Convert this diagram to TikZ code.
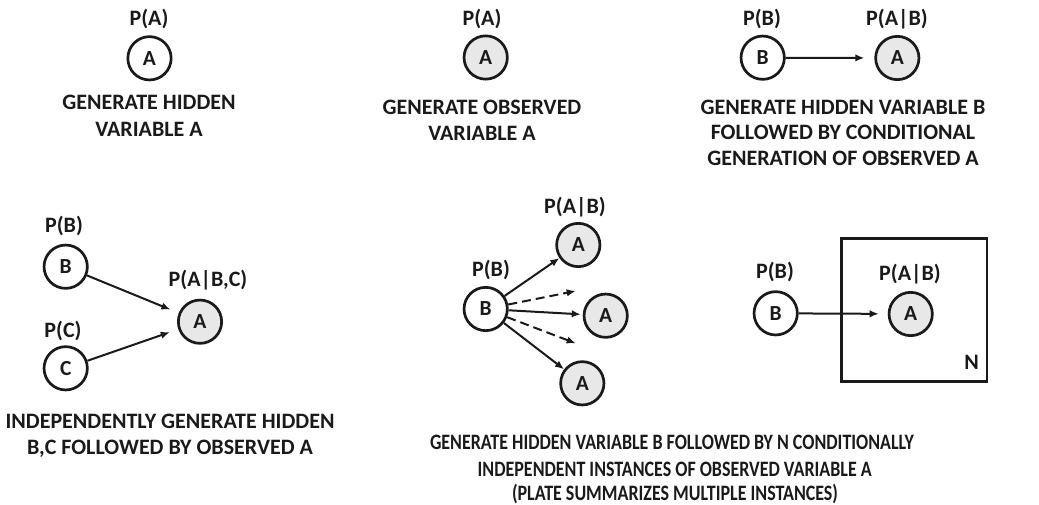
\documentclass[tikz,border=0pt]{standalone}
\usepackage{fontspec}
\setmainfont{Carlito}
\usetikzlibrary{arrows.meta}
\definecolor{ink}{HTML}{1A1A1A}
\definecolor{obsfill}{HTML}{E8E8E8}
\newcommand{\narrowtext}[1]{\scalebox{0.817}[1]{#1}}
\begin{document}
\begin{tikzpicture}[x=1pt,y=-1pt,
  lbl/.style={font=\fontsize{22}{27}\selectfont\bfseries, text=ink, inner sep=0pt, anchor=base},
  var/.style={circle, draw=ink, line width=2.7pt, minimum size=43.3pt, inner sep=0pt, font=\fontsize{21.5}{26}\selectfont\bfseries, text=ink},
  obs/.style={var, fill=obsfill},
  arr/.style={-{Latex[length=9pt,width=7.5pt]}, line width=2pt, draw=ink},
  dasharr/.style={arr, dash pattern=on 9pt off 5pt}]
\useasboundingbox (0,0) rectangle (1039,504);

% Panel 1
\node[lbl] (p1l) at (149,25) {P(A)};
\node[var] (p1a) at (149.5,58.3) {A};
\node[lbl] (p1t1) at (149,109) {GENERATE HIDDEN};
\node[lbl] (p1t2) at (149,136) {VARIABLE A};

% Panel 2
\node[lbl] (p2l) at (482,25) {P(A)};
\node[obs] (p2a) at (485.7,57.5) {A};
\node[lbl] (p2t1) at (482,114) {GENERATE OBSERVED};
\node[lbl] (p2t2) at (482,140) {VARIABLE A};

% Panel 3
\node[lbl] (p3lb) at (762,25) {P(B)};
\node[var] (p3b) at (762.7,57.7) {B};
\node[lbl] (p3la) at (897,25) {P(A|B)};
\node[obs] (p3a) at (897.3,58) {A};
\draw[arr, shorten >=10pt] (p3b) -- (p3a);
\node[lbl] (p3t1) at (843,114) {GENERATE HIDDEN VARIABLE B};
\node[lbl] (p3t2) at (843,139) {FOLLOWED BY CONDITIONAL};
\node[lbl] (p3t3) at (843,165) {GENERATION OF OBSERVED A};

% Panel 4
\node[lbl] (p4lb) at (64,232.3) {P(B)};
\node[var] (p4b) at (65.7,266.7) {B};
\node[lbl] (p4lc) at (63,337) {P(C)};
\node[var] (p4c) at (65.7,368.3) {C};
\node[lbl] (p4la) at (208,286.7) {P(A|B,C)};
\node[obs] (p4a) at (200,321.7) {A};
\draw[arr, shorten >=9pt] (p4b) -- (p4a);
\draw[arr, shorten >=9pt] (p4c) -- (p4a);
\node[lbl] (p4t1) at (170,428) {INDEPENDENTLY GENERATE HIDDEN};
\node[lbl] (p4t2) at (170,454) {B,C FOLLOWED BY OBSERVED A};

% Panel 5
\node[lbl] (p5la) at (575,213.3) {P(A|B)};
\node[obs] (p5a1) at (578.3,245) {A};
\node[lbl] (p5lb) at (491,276.7) {P(B)};
\node[var] (p5b) at (485.7,309) {B};
\node[obs] (p5a2) at (605.7,315.7) {A};
\node[obs] (p5a3) at (582.3,383.3) {A};
\coordinate (p5d1) at (575.7,291);
\coordinate (p5d2) at (575.7,343.3);
\draw[arr] (p5b) -- (p5a1);
\draw[arr, shorten >=2pt] (p5b) -- (p5a2);
\draw[arr] (p5b) -- (p5a3);
\draw[dasharr] (p5b) -- (p5d1);
\draw[dasharr] (p5b) -- (p5d2);

% Panel 6
\draw[draw=ink, line width=2.8pt] (841.4,238.7) rectangle (987,381.4);
\node[lbl] (p6lb) at (775,278.3) {P(B)};
\node[var] (p6b) at (775.7,313.3) {B};
\node[lbl] (p6la) at (910,280) {P(A|B)};
\node[obs] (p6a) at (910.7,314) {A};
\node[lbl] (p6n) at (971.7,369) {N};
\draw[arr, shorten >=9pt] (p6b) -- (p6a);

% Bottom text
\node[lbl] (bt1) at (672,449) {\narrowtext{GENERATE HIDDEN VARIABLE B FOLLOWED BY N CONDITIONALLY}};
\node[lbl] (bt2) at (674.7,476) {\narrowtext{INDEPENDENT INSTANCES OF OBSERVED VARIABLE A}};
\node[lbl] (bt3) at (675,500) {\narrowtext{(PLATE SUMMARIZES MULTIPLE INSTANCES)}};
\end{tikzpicture}
\end{document}
